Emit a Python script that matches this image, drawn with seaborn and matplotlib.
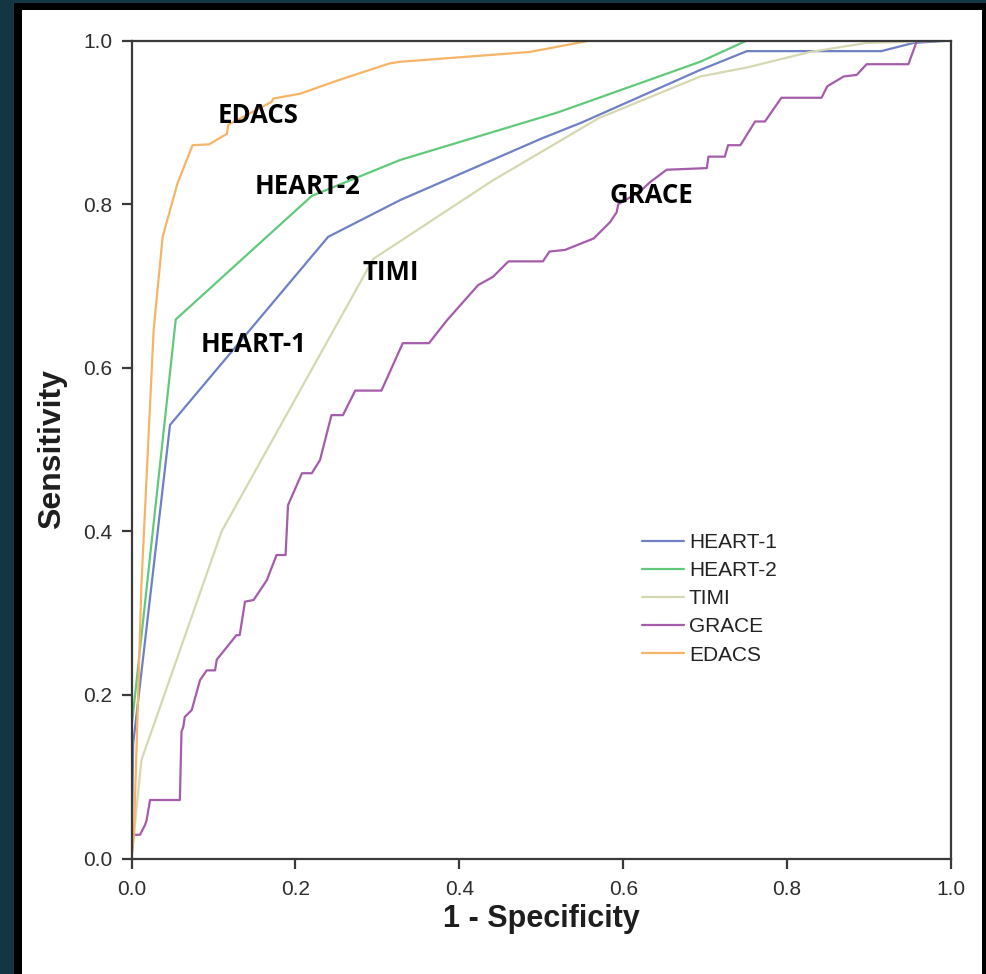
import numpy as np
import pandas as pd
import matplotlib
matplotlib.use("Agg")
import matplotlib.pyplot as plt
from matplotlib.patches import Rectangle
import seaborn as sns

# ---------------- data ----------------
models = ["HEART-1", "HEART-2", "TIMI", "GRACE", "EDACS"]
colors = ["#6f80c6", "#62c97c", "#d6d8b2", "#a45cab", "#f6b466"]

heart1_fpr = [0.0, 0.002, 0.047, 0.240, 0.328, 0.50, 0.55, 0.694, 0.751, 0.915, 0.954, 1.0]
heart1_tpr = [0.0, 0.140, 0.530, 0.760, 0.805, 0.880, 0.900, 0.964, 0.987, 0.987, 0.997, 1.0]

heart2_fpr = [0.0, 0.0, 0.054, 0.220, 0.328, 0.520, 0.694, 0.751, 1.0]
heart2_tpr = [0.0, 0.160, 0.659, 0.810, 0.854, 0.912, 0.974, 1.0, 1.0]

timi_fpr = [0.0, 0.012, 0.110, 0.295, 0.441, 0.570, 0.694, 0.751, 0.828, 0.897, 1.0]
timi_tpr = [0.0, 0.120, 0.400, 0.733, 0.829, 0.905, 0.956, 0.967, 0.986, 0.997, 1.0]

grace_fpr = [0.0, 0.002, 0.0104, 0.0165, 0.0185, 0.0226, 0.059, 0.061, 0.0632, 0.065,
             0.0735, 0.0836, 0.0918, 0.102, 0.104, 0.128, 0.132, 0.1385, 0.149, 0.165,
             0.177, 0.188, 0.191, 0.208, 0.220, 0.230, 0.244, 0.258, 0.273, 0.305,
             0.331, 0.363, 0.385, 0.423, 0.441, 0.460, 0.502, 0.510, 0.529, 0.564,
             0.584, 0.592, 0.594, 0.620, 0.633, 0.653, 0.702, 0.704, 0.724, 0.728,
             0.743, 0.761, 0.773, 0.793, 0.842, 0.849, 0.869, 0.885, 0.897, 0.948,
             0.956, 0.958, 1.0]
grace_tpr = [0.0, 0.029, 0.029, 0.041, 0.047, 0.0715, 0.0715, 0.155, 0.161, 0.173,
             0.1815, 0.218, 0.230, 0.230, 0.243, 0.273, 0.273, 0.314, 0.316, 0.340,
             0.371, 0.371, 0.432, 0.471, 0.471, 0.487, 0.542, 0.542, 0.572, 0.572,
             0.630, 0.630, 0.658, 0.701, 0.711, 0.730, 0.730, 0.742, 0.744, 0.758,
             0.778, 0.790, 0.800, 0.815, 0.827, 0.842, 0.844, 0.858, 0.858, 0.872,
             0.872, 0.901, 0.901, 0.930, 0.930, 0.944, 0.956, 0.958, 0.971, 0.971,
             0.993, 0.999, 1.0]

edacs_fpr = [0.0, 0.003, 0.012, 0.027, 0.038, 0.056, 0.0745, 0.0946, 0.1165, 0.118,
             0.171, 0.173, 0.206, 0.254, 0.315, 0.328, 0.486, 0.560, 1.0]
edacs_tpr = [0.0, 0.030, 0.332, 0.646, 0.760, 0.825, 0.872, 0.873, 0.886, 0.897,
             0.925, 0.929, 0.935, 0.952, 0.972, 0.974, 0.986, 1.0, 1.0]

# in-plot labels (text, x, y)
label_text = ["EDACS", "HEART-2", "HEART-1", "TIMI", "GRACE"]
label_x = [0.155, 0.215, 0.149, 0.316, 0.634]
label_y = [0.908, 0.821, 0.628, 0.716, 0.810]

ticks = [0.0, 0.2, 0.4, 0.6, 0.8, 1.0]
tick_labels = ["0.0", "0.2", "0.4", "0.6", "0.8", "1.0"]

# ---------------- build long table ----------------
series = {
    "HEART-1": (heart1_fpr, heart1_tpr),
    "HEART-2": (heart2_fpr, heart2_tpr),
    "TIMI": (timi_fpr, timi_tpr),
    "GRACE": (grace_fpr, grace_tpr),
    "EDACS": (edacs_fpr, edacs_tpr),
}
frames = []
for name in models:
    fx, fy = series[name]
    frames.append(pd.DataFrame({"fpr": fx, "tpr": fy, "model": name}))
df = pd.concat(frames, ignore_index=True)

# ---------------- figure ----------------
sns.set_style("white")
plt.rcParams["font.family"] = ["Liberation Sans", "DejaVu Sans"]

W, H = 986, 974
fig = plt.figure(figsize=(W / 100, H / 100), dpi=100, facecolor="#143542")
fig.patches.append(Rectangle((14 / W, 0), (986 - 14) / W, (974 - 3) / H,
                             transform=fig.transFigure, facecolor="black",
                             edgecolor="none", zorder=-3))
fig.patches.append(Rectangle((22 / W, 0), (982 - 22) / W, (974 - 10) / H,
                             transform=fig.transFigure, facecolor="white",
                             edgecolor="none", zorder=-2))

x0, x1 = 131.5, 951.0
yb, yt = 858.5, 40.5
ax = fig.add_axes([x0 / W, 1 - yb / H, (x1 - x0) / W, (yb - yt) / H])
ax.set_facecolor("white")

sns.lineplot(data=df, x="fpr", y="tpr", hue="model", hue_order=models,
             palette=dict(zip(models, colors)), sort=False, estimator=None,
             units="model", linewidth=1.6, legend=False, ax=ax)

ax.set_xlim(0, 1)
ax.set_ylim(0, 1)
ax.set_xticks(ticks)
ax.set_xticklabels(tick_labels)
ax.set_yticks(ticks)
ax.set_yticklabels(tick_labels)

for sp in ax.spines.values():
    sp.set_visible(True)
    sp.set_color("#3a3a3a")
    sp.set_linewidth(1.6)

ax.tick_params(axis="both", which="both", direction="out", length=7, width=1.6,
               color="#3a3a3a", labelsize=15, labelcolor="#2e2e2e",
               bottom=True, left=True, top=False, right=False)
ax.tick_params(axis="x", pad=8.5)
ax.tick_params(axis="y", pad=7)

ax.set_xlabel("1 - Specificity", fontsize=22, fontweight="bold", color="#1e1e1e",
              labelpad=3.5)
ax.set_ylabel("Sensitivity", fontsize=23, fontweight="bold", color="#1e1e1e",
              labelpad=11)

for t, lx, ly in zip(label_text, label_x, label_y):
    ax.text(lx, ly, t, ha="center", va="center", fontsize=18.5,
            fontweight="bold", family=["Open Sans", "DejaVu Sans"],
            color="black", zorder=5)

handles = [plt.Line2D([], [], color=c, linewidth=1.6) for c in colors]
leg = ax.legend(handles, models, loc="upper left",
                bbox_to_anchor=(642 / W, 1 - 533 / H),
                bbox_transform=fig.transFigure, frameon=False, fontsize=15,
                handlelength=2.0, handletextpad=0.25, labelspacing=0.44,
                borderpad=0, borderaxespad=0)
for txt in leg.get_texts():
    txt.set_color("#222222")

fig.savefig("out.png", dpi=100, facecolor=fig.get_facecolor())
